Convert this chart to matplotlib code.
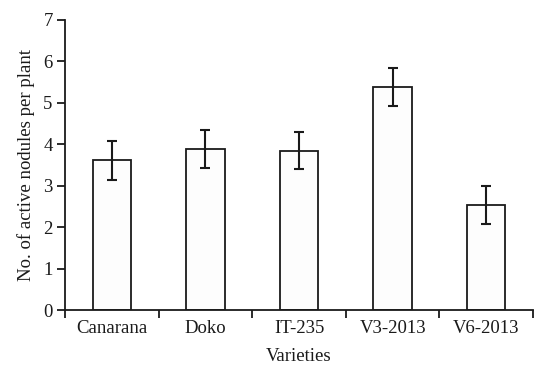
import numpy as np
import matplotlib
matplotlib.use('Agg')
import matplotlib.pyplot as plt
from matplotlib.ticker import FixedLocator

varieties = ['Canarana', 'Doko', 'IT-235', 'V3-2013', 'V6-2013']
nodules = [3.61, 3.89, 3.85, 5.38, 2.54]
err = [0.47, 0.45, 0.44, 0.46, 0.46]

plt.rcParams['font.family'] = ['Liberation Serif', 'DejaVu Serif']
fs = 13.5

fig = plt.figure(figsize=(5.34, 3.70), dpi=100)
ax = fig.add_axes([0.122, 0.162, 0.876, 0.784])

x = np.arange(len(varieties))
ax.bar(x, nodules, width=0.41, color='#fdfdfd', edgecolor='#1a1a1a', linewidth=1.3,
       yerr=err, error_kw=dict(ecolor='#1a1a1a', elinewidth=1.5, capsize=3.5, capthick=1.5))

ax.set_xlim(-0.5, len(varieties) - 0.5)
ax.set_ylim(0, 7)
ax.set_yticks(range(0, 8))
ax.set_xticks(x)
ax.set_xticklabels(varieties)
ax.xaxis.set_minor_locator(FixedLocator(np.arange(-0.5, len(varieties), 1.0)))
ax.tick_params(axis='x', which='major', length=0, pad=7, labelsize=fs, colors='#1a1a1a')
ax.tick_params(axis='x', which='minor', length=6, width=1.3, direction='out', color='#1a1a1a')
ax.tick_params(axis='y', length=6, width=1.3, direction='out', labelsize=fs, pad=3, colors='#1a1a1a')

for s in ['top', 'right']:
    ax.spines[s].set_visible(False)
for s in ['left', 'bottom']:
    ax.spines[s].set_linewidth(1.3)
    ax.spines[s].set_color('#1a1a1a')

ax.set_xlabel('Varieties', fontsize=fs, labelpad=8, color='#1a1a1a')
ax.set_ylabel('No. of active nodules per plant', fontsize=fs, labelpad=6, color='#1a1a1a')

fig.savefig('out.png', dpi=100)
